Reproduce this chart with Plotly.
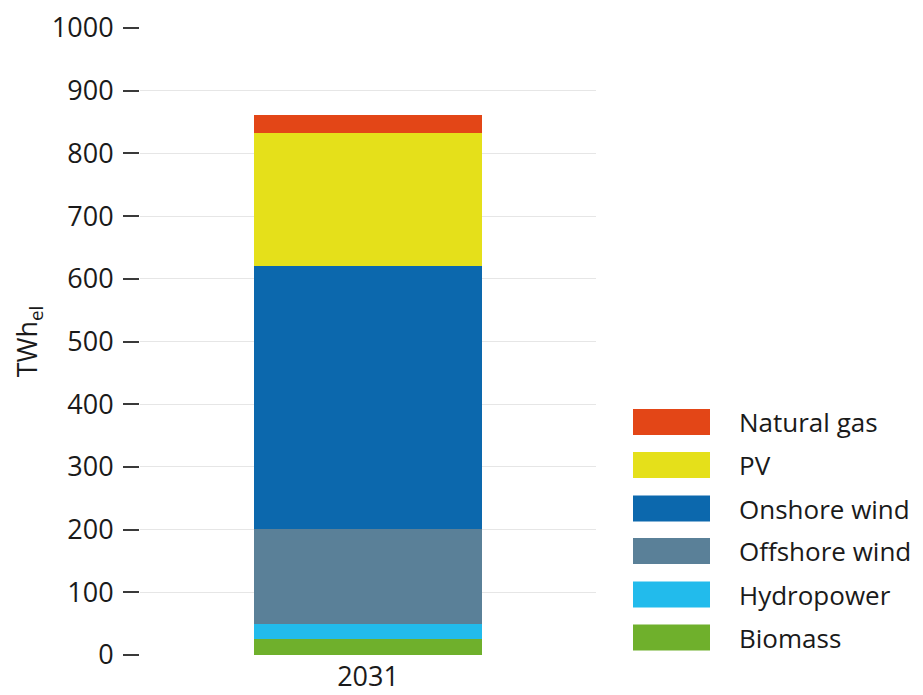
import plotly.graph_objects as go

categories = ["2031"]
series_names = ["Biomass", "Hydropower", "Offshore wind", "Onshore wind", "PV", "Natural gas"]
biomass = [25]
hydropower = [24]
offshore_wind = [152]
onshore_wind = [419]
pv = [213]
natural_gas = [29]
colors = ["#6fb02c", "#22bbec", "#5a8098", "#0c68ad", "#e5e01a", "#e34617"]
y_ticks = [0, 100, 200, 300, 400, 500, 600, 700, 800, 900, 1000]

values = [biomass, hydropower, offshore_wind, onshore_wind, pv, natural_gas]

FONT = "Open Sans"
TXT = "#1a1a1a"
FS = 27

fig = go.Figure()
for name, vals, col in zip(series_names, values, colors):
    fig.add_trace(go.Bar(x=categories, y=vals, name=name, marker=dict(color=col, line=dict(width=0)),
                         showlegend=False))

OFF = 8  # default page body margin
W, H = 923 - OFF, 695 - OFF
L, R, T, B = 140 - OFF, 327, 28 - OFF, 40
pw, ph = W - L - R, H - T - B

def px_x(x):
    return (x - OFF - L) / pw

def px_y(y):
    return (H + OFF - B - y) / ph

# manual legend (top to bottom: reverse of stack order)
row_centers = [422, 465, 508.5, 551, 594.5, 637.5]
for i, (name, col) in enumerate(zip(series_names[::-1], colors[::-1])):
    cy = row_centers[i]
    fig.add_shape(type="rect", xref="paper", yref="paper",
                  x0=px_x(633), x1=px_x(710), y0=px_y(cy + 13), y1=px_y(cy - 13),
                  fillcolor=col, line=dict(width=0))
    fig.add_annotation(xref="paper", yref="paper", x=px_x(737), y=px_y(cy),
                       text=name, showarrow=False, xanchor="left", yanchor="middle",
                       font=dict(family=FONT, size=26, color=TXT))

fig.update_layout(
    barmode="stack",
    bargap=0.5,
    width=W, height=H,
    margin=dict(l=L, r=R, t=T, b=B, pad=0),
    plot_bgcolor="white", paper_bgcolor="white",
    font=dict(family=FONT, size=FS, color=TXT),
    xaxis=dict(showgrid=False, showline=False, ticks="", automargin=False, ticklabelstandoff=3,
               tickfont=dict(size=FS, color=TXT)),
    yaxis=dict(range=[0, 1000], tickvals=y_ticks, showgrid=True, gridcolor="#e6e6e6", gridwidth=1,
               zeroline=False, showline=False, ticks="outside", ticklen=16, tickwidth=2,
               tickcolor="#3a3a3a", ticklabelstandoff=4, automargin=False,
               tickfont=dict(size=FS, color=TXT),
               title=dict(text="TWh<sub>el</sub>", font=dict(size=27, color=TXT), standoff=11)),
)

fig.write_html("out.html")
